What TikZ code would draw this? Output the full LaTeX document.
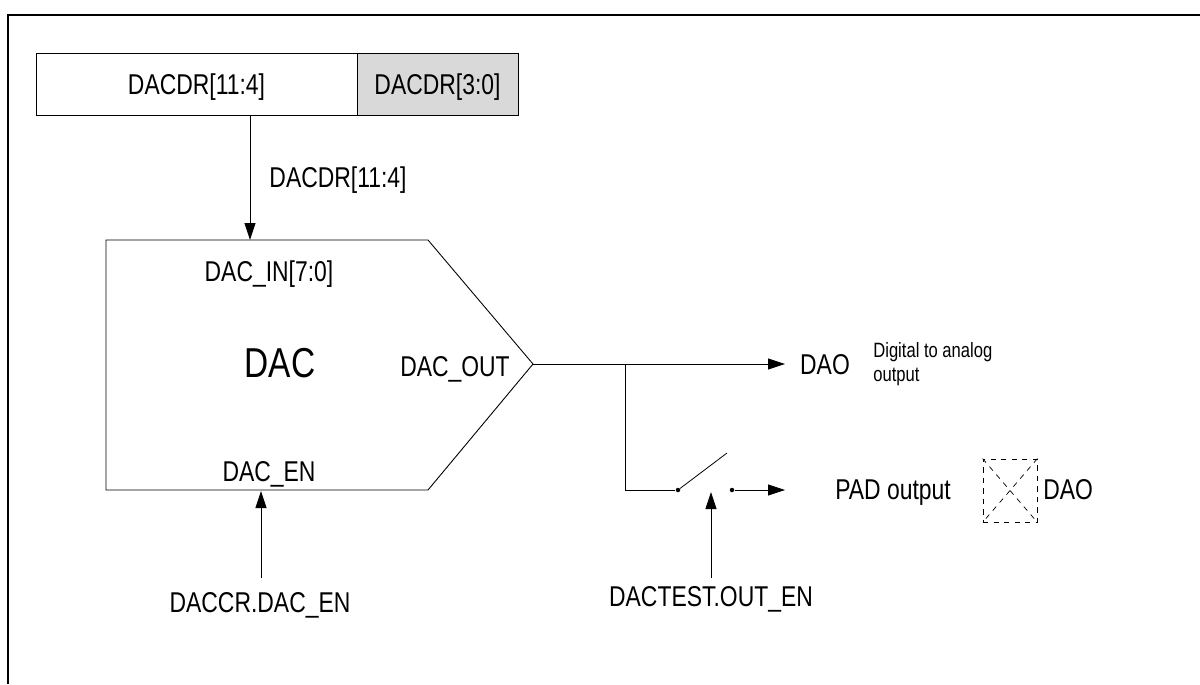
\documentclass[tikz,border=0pt]{standalone}
\usepackage{fontspec}
\setmainfont[FakeStretch=0.8]{Liberation Sans}
\usepackage{xcolor}
\usepackage{tikz}
\usetikzlibrary{arrows.meta,positioning,calc}

\begin{document}
\begin{tikzpicture}[
  x=0.02cm, y=-0.02cm,
  regbox/.style={draw, line width=0.5pt, minimum height=1.24cm, inner sep=0pt, text height=11.7pt, text depth=0pt,
    font=\fontsize{16.3}{16.3}\selectfont},
  lbl/.style={inner sep=0pt, text height=11.7pt, text depth=0pt, font=\fontsize{16.3}{16.3}\selectfont},
  dot/.style={circle, fill=black, inner sep=0pt, minimum size=0.09cm},
  arr/.style={-{Triangle[length=3.4mm,width=2.2mm]}, line width=0.45pt}
]
\useasboundingbox (0,0) rectangle (1200,684);

% Frame
\draw[line width=1.6pt] (8,684) -- (8,15) -- (1200,15);

% Register
\node[regbox, minimum width=6.42cm] (reghi) at (196.5,84) {DACDR[11:4]};
\node[regbox, minimum width=3.22cm, fill=black!15] (reglo) at (437.5,84) {DACDR[3:0]};

% DAC body
\draw[line width=0.5pt] (106,240) coordinate (dactop) -- (428,240) -- (533,364) coordinate (dactip)
  -- (428,490) -- (106,490) coordinate (dacbot) -- cycle;
\node[lbl, text height=17pt, font=\fontsize{23.8}{23.8}\selectfont] (dac) at (280,363) {DAC};
\node[lbl] (dacin) at (269,271.5) {DAC\_IN[7:0]};
\node[lbl] (dacen) at (269,471) {DAC\_EN};
\node[lbl] (dacout) at (455,366) {DAC\_OUT};

% Labels
\node[lbl] (bus) at (338,177) {DACDR[11:4]};
\node[lbl] (ctrl) at (260,602.5) {DACCR.DAC\_EN};
\node[lbl] (test) at (711,596) {DACTEST.OUT\_EN};
\node[lbl] (dao) at (825,364) {DAO};
\node[inner sep=0pt, font=\fontsize{11.8}{13.6}\selectfont, align=left, anchor=base west] (desc) at (873,381) {Digital to analog\\output};
\node[lbl] (padout) at (893,489) {PAD output};

% Pad
\node[draw, dashed, line width=0.45pt, minimum width=1.08cm, minimum height=1.26cm, inner sep=0pt] (pad) at (1010,490.5) {};
\node[lbl, anchor=west] (paddao) at (1043,489) {DAO};
\draw[dashed, line width=0.4pt] (pad.north west) -- (pad.south east);
\draw[dashed, line width=0.4pt] (pad.north east) -- (pad.south west);

% Switch
\node[dot] (swa) at (678,490) {};
\node[dot] (swb) at (732,490) {};
\coordinate (blade) at (727,453);
\coordinate (junc) at (625,364);
\coordinate (daotip) at (785,364);
\coordinate (padtip) at (785,490);
\coordinate (busend) at (250,115);
\coordinate (busin) at (250,240);
\coordinate (ctrlend) at (261,578);
\coordinate (ctrlin) at (261,491);
\coordinate (testend) at (711,578);
\coordinate (testin) at (711,492);

\draw[line width=0.45pt] (swa) -- (blade);
\draw[arr] (busend) -- (busin);
\draw[arr] (ctrlend) -- (ctrlin);
\draw[arr] (testend) -- (testin);
\draw[arr] (dactip) -- (daotip);
\draw[line width=0.5pt] (junc) -- (junc |- swa) -- (swa);
\draw[arr] (swb) -- (padtip);

\end{tikzpicture}
\end{document}
